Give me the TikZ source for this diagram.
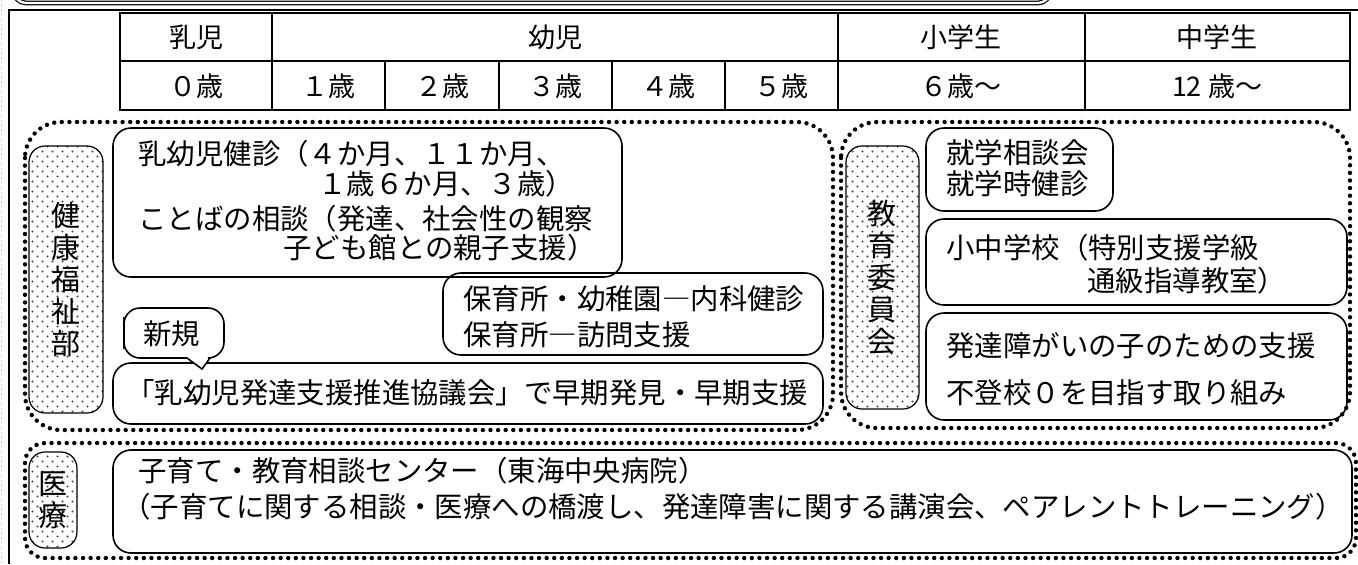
\documentclass[tikz,border=0pt]{standalone}
\usepackage{fontspec}
\setmainfont{Noto Sans CJK JP}
\usepackage{tikz}
\usetikzlibrary{patterns.meta}

\tikzdeclarepattern{
	name=tagdots,
	type=uncolored,
	bottom left={(-.1pt,-.1pt)},
	top right={(5.1pt,5.1pt)},
	tile size={(5pt,5pt)},
	code={
		\pgfpathcircle{\pgfpoint{1.25pt}{1.25pt}}{0.6pt}
		\pgfpathcircle{\pgfpoint{3.75pt}{3.75pt}}{0.6pt}
		\pgfusepath{fill}
	}
}

\begin{document}
\begin{tikzpicture}[x=0.5pt,y=-0.5pt,grp/.style={line width=2.2pt,dash pattern=on 0pt off 3.8pt,line cap=round,rounded corners=18pt},box/.style={line width=0.8pt,rounded corners=9pt},tag/.style={line width=0.6pt,rounded corners=8pt,pattern=tagdots,pattern color=black!70},cell/.style={font=\fontsize{13.5}{15}\selectfont,inner sep=0pt},txt/.style={anchor=west,font=\fontsize{14.2}{16}\selectfont,inner sep=0pt},vlab/.style={align=center,font=\fontsize{14.5}{16}\selectfont,inner sep=0pt}]
	
	\useasboundingbox (0,0) rectangle (1358,564);
	
	% frame
	\draw[gray!60,dotted] (1,0) -- (1,564);
	\draw[line width=1.3pt] (9,564) -- (9,10) -- (1358,10);
	\draw[line width=0.6pt,double distance=1.2pt,rounded corners=6pt] (14,-30) -- (14,3) -- (1050,3) -- (1050,-30);
	
	% table
	\draw[line width=0.7pt] (120,13) rectangle (1350,110);
	\draw[line width=0.7pt] (120,61) -- (1350,61);
	\foreach \x in {272,838,1085}
		\draw[line width=0.7pt] (\x,13) -- (\x,110);
	\foreach \x in {385,499,612,725}
		\draw[line width=0.7pt] (\x,61) -- (\x,110);
	
	\node[cell] (nyuji) at (196,37) {乳児};
	\node[cell] (yoji) at (555,37) {幼児};
	\node[cell] (shogaku) at (961,37) {小学生};
	\node[cell] (chugaku) at (1217,37) {中学生};
	\node[cell] (age0) at (196,86) {０歳};
	\node[cell] (age1) at (328,86) {１歳};
	\node[cell] (age2) at (442,86) {２歳};
	\node[cell] (age3) at (555,86) {３歳};
	\node[cell] (age4) at (668,86) {４歳};
	\node[cell] (age5) at (781,86) {５歳};
	\node[cell] (age6) at (961,86) {６歳〜};
	\node[cell] (age12) at (1217,86) {12 歳〜};
	
	% kenko fukushi bu
	\draw[grp] (25,122) rectangle (833,430);
	\draw[tag] (29,146) rectangle (103,413);
	\node[vlab] (kenko) at (66,280) {健\\康\\福\\祉\\部};
	
	\draw[box] (113,128) rectangle (622,277);
	\node[txt] (kenshin1) at (138,154) {乳幼児健診（４か月、１１か月、};
	\node[txt] (kenshin2) at (318,184) {１歳６か月、３歳）};
	\node[txt] (kotoba1) at (138,219) {ことばの相談（発達、社会性の観察};
	\node[txt] (kotoba2) at (283,248) {子ども館との親子支援）};
	
	\draw[box] (443,273) rectangle (823,355);
	\node[txt] (hoiku1) at (463,299) {保育所・幼稚園―内科健診};
	\node[txt] (hoiku2) at (463,335) {保育所―訪問支援};
	
	\draw[box] (113,363) rectangle (823,424);
	\node[txt] (kyogikai) at (126,393) {「乳幼児発達支援推進協議会」で早期発見・早期支援};
	
	\draw[box,fill=white] (124,333) [rounded corners=8pt] -- (124,308) -- (224,308) -- (224,358) [sharp corners] -- (210,358) -- (202,369) -- (187,358) [rounded corners=8pt] -- (124,358) -- cycle;
	\node[txt] (shinki) at (143,334) {新規};
	
	% kyoiku iinkai
	\draw[grp] (841,122) rectangle (1350,428);
	\draw[tag] (846,146) rectangle (919,409);
	\node[vlab] (kyoiku) at (882,278) {教\\育\\委\\員\\会};
	
	\draw[box] (926,128) rectangle (1113,211);
	\node[txt] (shugaku1) at (946,153) {就学相談会};
	\node[txt] (shugaku2) at (946,184) {就学時健診};
	
	\draw[box] (926,219) rectangle (1347,305);
	\node[txt] (gakko1) at (946,248) {小中学校（特別支援学級};
	\node[txt] (gakko2) at (1087,281) {通級指導教室）};
	
	\draw[box] (926,313) rectangle (1347,420);
	\node[txt] (shien1) at (946,346) {発達障がいの子のための支援};
	\node[txt] (shien2) at (946,393) {不登校０を目指す取り組み};
	
	% iryo
	\draw[grp,rounded corners=10pt] (25,443) rectangle (1356,558);
	\draw[tag] (29,452) rectangle (77,548);
	\node[vlab] (iryo) at (53,500) {医\\療};
	
	\draw[box] (113,450) rectangle (1352,553);
	\node[txt] (center1) at (138,471) {子育て・教育相談センター（東海中央病院）};
	\node[txt] (center2) at (122,507) {（子育てに関する相談・医療への橋渡し、発達障害に関する講演会、ペアレントトレーニング）};
	
\end{tikzpicture}
\end{document}
